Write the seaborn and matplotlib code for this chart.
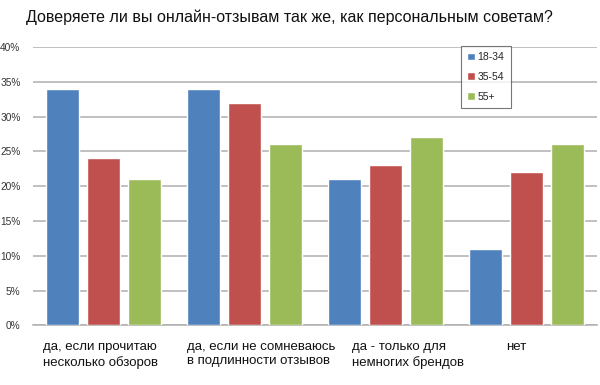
import matplotlib
matplotlib.use("Agg")
import matplotlib.pyplot as plt
import matplotlib.transforms as mtransforms
import seaborn as sns
import pandas as pd

categories = ["да, если прочитаю\nнесколько обзоров",
              "да, если не сомневаюсь\nв подлинности отзывов",
              "да - только для\nнемногих брендов",
              "нет"]
series = ["18-34", "35-54", "55+"]
v_18_34 = [0.34, 0.34, 0.21, 0.11]
v_35_54 = [0.24, 0.32, 0.23, 0.22]
v_55 = [0.21, 0.26, 0.27, 0.26]
yticks = [0, 0.05, 0.10, 0.15, 0.20, 0.25, 0.30, 0.35, 0.40]
ytick_labels = ["0%", "5%", "10%", "15%", "20%", "25%", "30%", "35%", "40%"]
title = "Доверяете ли вы онлайн-отзывам так же, как персональным советам?"

rows = []
for c, a, b, d in zip(categories, v_18_34, v_35_54, v_55):
    rows += [(c, series[0], a), (c, series[1], b), (c, series[2], d)]
df = pd.DataFrame(rows, columns=["cat", "age", "val"])

sns.set_theme(style="white")
plt.rcParams["font.family"] = ["Liberation Sans", "DejaVu Sans"]

fig = plt.figure(figsize=(6.0, 3.85), dpi=100)
ax = fig.add_axes([0.055, 0.155, 0.94, 0.723])

palette = ["#4F81BD", "#C0504D", "#9BBB59"]
sns.barplot(data=df, x="cat", y="val", hue="age", palette=palette, ax=ax,
            width=0.88, gap=0.2, saturation=1, legend=True, zorder=3)

ax.set_xlim(-0.5, 3.5)
ax.set_ylim(0, 0.40)
ax.set_yticks(yticks)
ax.set_yticklabels(ytick_labels, fontsize=7.3, color="#333333")
ax.tick_params(axis="y", length=0, pad=9)
ax.yaxis.grid(True, color="#AFAFAF", linewidth=1.1, zorder=0)
ax.set_axisbelow(True)
for s in ["top", "right", "left"]:
    ax.spines[s].set_visible(False)
ax.spines["bottom"].set_color("#AFAFAF")
ax.spines["bottom"].set_linewidth(1.1)
ax.set_xlabel("")
ax.set_ylabel("")
ax.set_xticks(range(len(categories)))
ax.set_xticklabels([])
ax.tick_params(axis="x", length=0)

offsets = [-0.43, -0.41, -0.235, -0.145]
trans = mtransforms.blended_transform_factory(ax.transData, ax.transAxes)
for i, (lab, off) in enumerate(zip(categories, offsets)):
    ax.text(i + off, -0.058, lab, transform=trans, ha="left", va="top",
            fontsize=9.5, color="#111111", linespacing=1.22)

fig.text(26 / 600, 1 - 17 / 385, title, ha="left", va="center",
         fontsize=11.5, color="#111111")

leg = ax.legend(loc="upper left", bbox_to_anchor=((461 - 33) / 564, 1.005),
                fontsize=7.5, frameon=True, fancybox=False, handlelength=0.7,
                handleheight=0.7, handletextpad=0.3, labelspacing=0.95,
                borderpad=0.6, borderaxespad=0)
leg.get_frame().set_edgecolor("#555555")
leg.get_frame().set_linewidth(0.8)

fig.savefig("out.png", dpi=100)
